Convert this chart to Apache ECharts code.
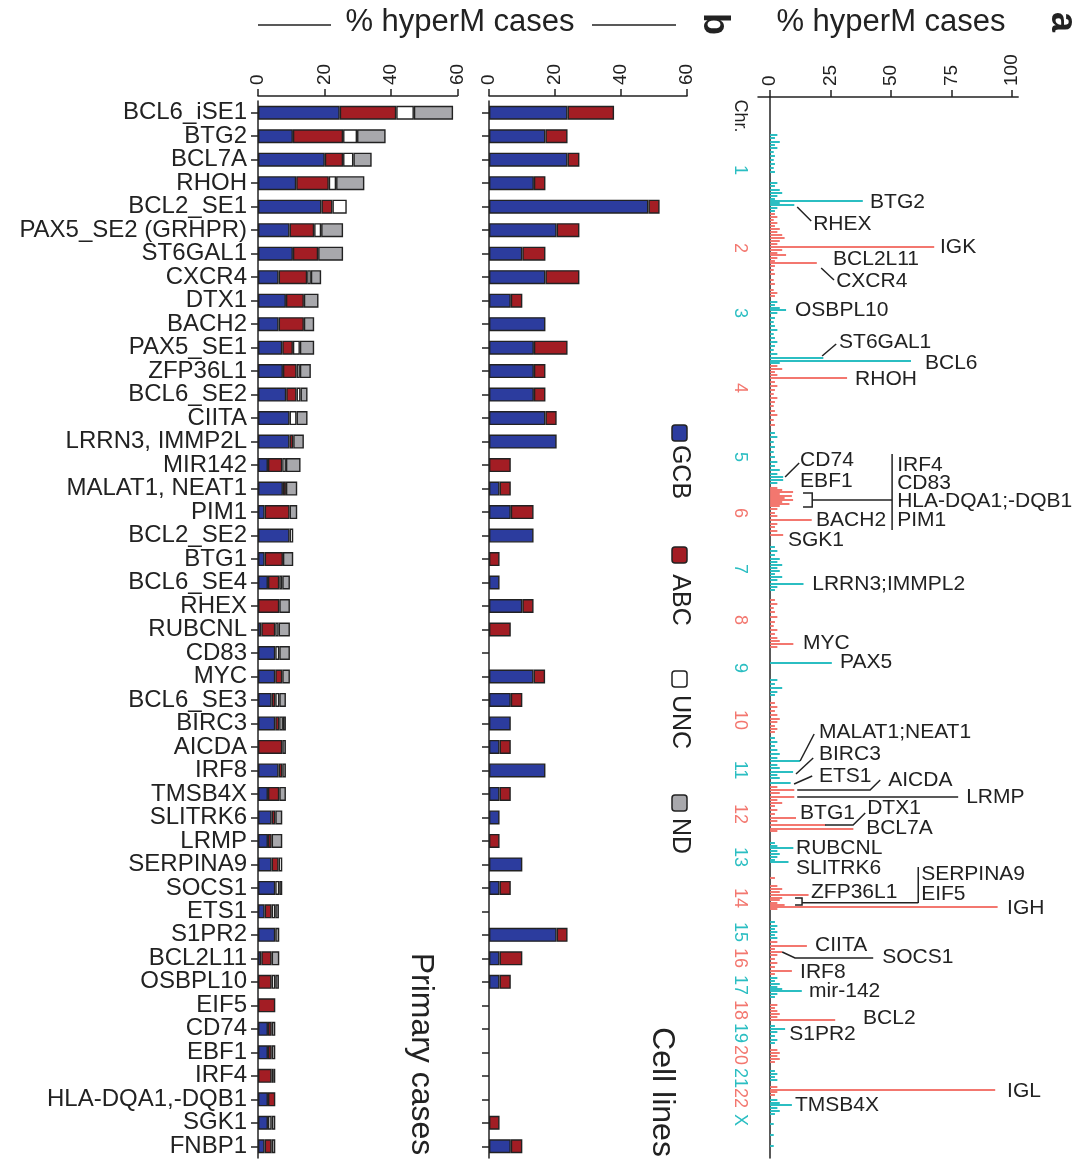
<!DOCTYPE html>
<html><head><meta charset="utf-8">
<script src="https://cdn.jsdelivr.net/npm/echarts@6/dist/echarts.min.js"></script>
<style>html,body{margin:0;padding:0;background:#fff}#c{width:1087px;height:1163px}</style>
</head><body><div id="c"></div>
<script>
// ---------- Panel b data ----------
const genes = ['BCL6_iSE1','BTG2','BCL7A','RHOH','BCL2_SE1','PAX5_SE2 (GRHPR)','ST6GAL1','CXCR4','DTX1','BACH2',
 'PAX5_SE1','ZFP36L1','BCL6_SE2','CIITA','LRRN3, IMMP2L','MIR142','MALAT1, NEAT1','PIM1','BCL2_SE2','BTG1',
 'BCL6_SE4','RHEX','RUBCNL','CD83','MYC','BCL6_SE3','BIRC3','AICDA','IRF8','TMSB4X',
 'SLITRK6','LRMP','SERPINA9','SOCS1','ETS1','S1PR2','BCL2L11','OSBPL10','EIF5','CD74',
 'EBF1','IRF4','HLA-DQA1,-DQB1','SGK1','FNBP1'];
const primGCB = [24.6,10.5,20.1,11.5,19.1,9.5,10.5,6.2,8.4,6.2, 7.3,7.5,8.5,9.5,9.5,3.0,7.5,2.0,9.5,2.0,
 3.0,0,1.0,5.2,5.2,4.1,5.2,0,6.2,3.0, 4.1,3.0,4.1,5.2,2.0,5.2,1.0,0,0,3.0, 3.0,0,3.0,3.0,2.0];
const primABC = [17.0,15.1,5.5,9.8,3.3,7.4,7.6,8.6,5.4,7.6, 3.2,4.1,3.1,0,1.1,4.3,0.9,7.5,0,5.5,
 3.4,6.4,4.2,0,2.1,1.1,1.2,7.3,1.1,3.4, 1.1,1.1,2.1,0,2.1,0,3.1,4.1,5.2,1.1, 1.1,4.1,2.2,0,2.1];
const primUNC = [5.3,4.2,3.1,2.2,4.3,2.1,0,1.1,0,0, 2.1,1.0,1.2,2.1,0,1.1,0,0,1.1,0,
 0.9,0,1.0,1.2,0,1.2,1.1,0,0,0, 0,0,1.1,1.2,1.1,0,0,1.1,0,0, 0,0.5,0,1.1,0];
const primND = [11.8,8.6,5.5,8.5,0,6.6,7.5,3.1,4.4,3.1, 4.3,3.3,2.1,3.3,3.2,4.4,3.4,2.3,0,3.1,
 2.3,3.2,3.4,3.2,2.3,2.0,0.9,1.1,1.1,2.0, 2.1,3.2,0,0.9,1.1,1.2,2.3,1.1,0,1.1, 1.1,0.6,0,1.1,1.1];
const cellGCB = [23.8,17.1,23.8,13.6,48.3,20.5,10.1,17.1,6.6,17.1, 13.6,13.6,13.6,17.1,20.5,0,3.2,6.6,13.5,0,
 3.2,10.1,0,0,13.5,6.6,6.6,3.2,17.1,3.2, 3.2,0,10.1,3.2,0,20.5,3.2,3.2,0,0, 0,0,0,0,6.6];
const cellABC = [14.1,6.7,3.6,3.5,3.4,6.9,7.0,10.3,3.5,0, 10.2,3.5,3.5,3.4,0,6.6,3.4,6.9,0,3.2,
 0,3.4,6.6,0,3.5,3.5,0,3.4,0,3.4, 0,3.2,0,3.4,0,3.3,6.9,3.4,0,0, 0,0,0,3.2,3.5];
const bTicks = [0,20,40,60];
const legendNames = ['GCB','ABC','UNC','ND'];

// ---------- Panel a data ----------
const aTicks = [0,25,50,75,100];
const chrNames = ['1','2','3','4','5','6','7','8','9','10','11','12','13','14','15','16','17','18','19','20','21','22','X'];
const chrLabelPos = [170,248,313,388,457,513,569,620,668,720,770,814,857,898,932,958,985,1010,1033,1055,1078,1098,1120];
// [chromosome index, genomic position (plot units), % hyperM cases]
const hmTicks = [
 [0,135,3],[0,138,2],[0,142,4],[0,145,2],[0,148,3],[0,152,1.5],[0,156,2],[0,160,1.5],[0,164,2],[0,168,1.5],[0,172,2],[0,183,3],[0,186,2],[0,190,4],[0,193,5],[0,196,3],[0,199,2],[0,201,38.3],[0,203,4],[0,205,10],[0,208,3],[0,211,2],
 [1,214,2],[1,217,3],[1,220,1.5],[1,223,3],[1,226,2],[1,229,4],[1,232,3],[1,235,5],[1,238,6],[1,241,4],[1,244,3],[1,247,67.8],[1,250,5],[1,253,3],[1,255,6.6],[1,258,3],[1,261,2],[1,263,19.3],[1,266,2],[1,270,1.5],[1,274,2],[1,280,1.5],[1,284,2],[1,290,1.5],[1,293,3],[1,296,2],
 [2,302,3],[2,305,2],[2,308,4],[2,310,6.6],[2,313,3],[2,318,2],[2,322,1.5],[2,326,2],[2,330,3],[2,334,1.5],[2,338,2],[2,342,3],[2,346,2],[2,350,1.5],[2,354,3],[2,358,22],[2,361,58.2],[2,363,4],
 [3,366,3],[3,369,5],[3,372,2],[3,375,3],[3,378,31.8],[3,382,2],[3,386,3],[3,390,2],[3,394,1.5],[3,398,3],[3,402,2],[3,406,1.5],[3,411,2],[3,415,3],[3,420,1.5],[3,425,2],
 [4,433,2],[4,437,3],[4,442,1.5],[4,447,2],[4,452,1.5],[4,457,2],[4,462,3],[4,466,2],[4,470,4],[4,474,3],[4,477,5.4],[4,480,5.4],[4,483,3],
 [5,488,3],[5,490,5],[5,492,9.5],[5,494,4],[5,496,9],[5,498,6],[5,500,9.5],[5,502,5],[5,504,8],[5,506,4],[5,509,3],[5,513,2],[5,516,3],[5,520,17.2],[5,524,3],[5,527,2],[5,531,3],[5,535,5.4],
 [6,547,2],[6,551,3],[6,555,2],[6,559,4],[6,562,3],[6,565,5],[6,568,3],[6,571,4],[6,574,2],[6,577,5],[6,580,3],[6,584,13.8],[6,587,3],[6,590,2],
 [7,600,2],[7,604,3],[7,608,1.5],[7,612,2],[7,617,3],[7,622,2],[7,626,1.5],[7,630,3],[7,634,2],[7,638,3],[7,641,4],[7,644,9.6],[7,647,3],
 [8,663,25.5],[8,680,3],[8,684,2],[8,688,5],[8,692,3],[8,695,2],
 [9,703,2],[9,707,3],[9,711,2],[9,715,3],[9,719,4],[9,722,3],[9,726,2],[9,729,3],[9,732,2],
 [10,738,2],[10,742,3],[10,746,2],[10,750,3],[10,754,4],[10,758,3],[10,761,12.4],[10,765,3],[10,768,4],[10,772,9.5],[10,775,3],[10,778,4],[10,783,8.5],
 [11,787,3],[11,790,10],[11,793,4],[11,797,10],[11,800,3],[11,803,5],[11,806,2],[11,810,3],[11,814,2],[11,818,10.7],[11,821,3],[11,825,23],[11,829,34.4],[11,831,3],
 [12,843,2],[12,846,3],[12,848,9.6],[12,851,3],[12,854,4],[12,857,3],[12,860,2],[12,862,7.6],
 [13,878,2],[13,886,3],[13,889,5],[13,892,4],[13,895,15.9],[13,898,5],[13,900,4],[13,903,3],[13,905,6],[13,907,94],[13,909,3],
 [14,922,2],[14,926,3],[14,929,2],[14,932,3],[14,935,2],[14,938,3],
 [15,942,3],[15,946,15.2],[15,949,2],[15,952,5],[15,955,3],[15,959,2],[15,963,3],[15,967,2],[15,971,9],[15,974,2],
 [16,978,3],[16,981,2],[16,984,4],[16,987,3],[16,989,5],[16,991,13.1],[16,994,3],[16,997,2],
 [17,1005,3],[17,1008,2],[17,1011,3],[17,1014,4],[17,1017,3],[17,1020,26.9],
 [18,1026,2],[18,1029,6.2],[18,1032,3],[18,1036,2],[18,1040,3],[18,1043,2],
 [19,1050,3],[19,1053,4],[19,1056,3],[19,1059,4],[19,1062,2],
 [20,1071,2],[20,1074,3],[20,1077,2],[20,1080,3],
 [21,1087,3],[21,1090,93],[21,1092,3],[21,1095,2],
 [22,1100,3],[22,1103,4],[22,1105,9],[22,1108,3],[22,1111,4],[22,1114,2],[22,1124,1.5],[22,1135,1.5],[22,1146,1.5]
];
const geneLabelNames = ['BTG2','RHEX','IGK','BCL2L11','CXCR4','OSBPL10','ST6GAL1','BCL6','RHOH','CD74','EBF1',
 'IRF4','CD83','HLA-DQA1;-DQB1','PIM1','BACH2','SGK1','LRRN3;IMMPL2','MYC','PAX5','MALAT1;NEAT1','BIRC3','ETS1',
 'AICDA','LRMP','BTG1','DTX1','BCL7A','RUBCNL','SLITRK6','SERPINA9','ZFP36L1','EIF5','IGH','CIITA','SOCS1',
 'IRF8','mir-142','BCL2','S1PR2','IGL','TMSB4X'];
const geneLabelPos = [[41.3,202],[17.8,224],[70.2,247],[26.0,259],[27.3,281],[10.3,310],[28.5,342],[64.0,363],[35.1,379],[12.4,460],[12.4,481],
 [52.5,465],[52.5,483],[52.5,501],[52.5,520],[19.0,520],[7.4,540],[17.4,584],[13.6,643],[28.9,662],[20.2,732],[20.2,754],[20.2,776],
 [48.8,780],[81.0,797],[12.4,813],[40.1,808],[39.7,828],[10.7,848],[10.7,868],[62.4,874],[16.9,892],[62.4,894],[97.9,908],[18.6,945],[46.3,957],
 [12.4,972],[16.1,991],[38.4,1018],[7.9,1034],[97.9,1091],[10.3,1105]];
const leaderPaths = [
 [[11.2,207],[17.0,221]], [[21.1,268],[26.4,280]], [[21.5,356],[27.3,344]], [[6.2,477],[12.0,463]],
 [[13.6,493],[17.4,493],[17.4,507],[13.6,507]], [[17.4,500],[50.4,500]], [[50.4,454],[50.4,530]],
 [[12.4,761],[18.2,734]], [[10.7,774],[17.8,758]], [[9.9,784],[17.4,776]],
 [[11.2,790],[41.3,790],[45.5,780]], [[11.2,797],[77.7,797]], [[22.7,825],[34.3,825],[39.3,813]],
 [[10.3,898],[13.2,898],[13.2,905],[10.3,905]], [[13.2,902.7],[61.2,902.7]], [[61.2,867],[61.2,903]],
 [[5.0,952],[10.3,958],[42.6,958]]
];

// ---------- styles ----------
const FONT = 'Liberation Sans, Arial, Helvetica, sans-serif';
const BLUE = '#2C3C9E', RED = '#A31D24', UNCW = '#FFFFFF', GRAY = '#A8A8AC';
const CYAN = '#2BBEC2', SALMON = '#F3776F', INK = '#222';
const nz = a => a.map(v => v > 0 ? v : null);

const chart = echarts.init(document.getElementById('c'), null, {renderer: 'canvas'});

function barSeries(name, data, color, xi, stack) {
  return {type: 'bar', name, data: nz(data), stack, xAxisIndex: xi, yAxisIndex: xi, barWidth: 14,
    itemStyle: {color, borderColor: INK, borderWidth: 1.4}, silent: true};
}
const axisLineStyle = {show: true, lineStyle: {color: INK, width: 1.5}};
function bXAxis(idx) {
  return {gridIndex: idx, type: 'value', position: 'top', min: 0, max: 60, interval: 20, offset: 5,
    axisLine: axisLineStyle, axisTick: {show: true, length: 7, lineStyle: {color: INK, width: 1.5}},
    splitLine: {show: false},
    axisLabel: {rotate: -90, fontSize: 19, fontFamily: FONT, color: INK, margin: 11}};
}
function bYAxis(idx, showLabels) {
  return {gridIndex: idx, type: 'category', data: genes, inverse: true,
    axisLine: axisLineStyle, axisTick: {show: true, length: 7, alignWithLabel: true, interval: 0, lineStyle: {color: INK, width: 1.5}},
    axisLabel: {show: showLabels, interval: 0, fontSize: 24, fontFamily: FONT, color: INK, margin: 11}};
}

// graphic texts
const rotTxt = (text, x, y, size, bold) => ({type: 'text', x, y, rotation: -Math.PI / 2,
  style: {text, font: (bold ? 'bold ' : '') + size + 'px ' + FONT, fill: INK, align: 'center', verticalAlign: 'middle',
    textAlign: 'center', textVerticalAlign: 'middle'}});
const legendColors = [BLUE, RED, UNCW, GRAY];
const legendIconY = [433, 555, 679, 803];
const legendTextY = [472, 600, 722, 836];
const graphics = [];
legendNames.forEach((n, i) => {
  graphics.push({type: 'rect', shape: {x: 672, y: legendIconY[i] - 8, width: 15, height: 16, r: 3},
    style: {fill: legendColors[i], stroke: INK, lineWidth: 1.5}});
  graphics.push(rotTxt(n, 680, legendTextY[i], 25));
});
graphics.push(rotTxt('Primary cases', 421, 1054, 32));
graphics.push(rotTxt('Cell lines', 662, 1092, 32));
graphics.push(rotTxt('b', 714, 24, 36, true));
graphics.push(rotTxt('a', 1062, 22, 36, true));
graphics.push(rotTxt('Chr.', 740, 116, 18));
const hTxt = (text, x, y, size) => ({type: 'text', x, y, style: {text, font: size + 'px ' + FONT, fill: INK,
  align: 'center', verticalAlign: 'middle', textAlign: 'center', textVerticalAlign: 'middle'}});
graphics.push(hTxt('% hyperM cases', 460, 22, 31));
graphics.push(hTxt('% hyperM cases', 891, 22, 31));
graphics.push({type: 'line', shape: {x1: 258, y1: 25, x2: 331, y2: 25}, style: {stroke: INK, lineWidth: 1.5}});
graphics.push({type: 'line', shape: {x1: 592, y1: 25, x2: 676, y2: 25}, style: {stroke: INK, lineWidth: 1.5}});

const option = {
  animation: false,
  backgroundColor: '#fff',
  textStyle: {fontFamily: FONT},
  grid: [
    {left: 258, width: 199.4, top: 101, height: 1057, outerBoundsMode: 'none', containLabel: false},
    {left: 489, width: 198, top: 101, height: 1057, outerBoundsMode: 'none', containLabel: false},
    {left: 758, width: 260.2, top: 97, height: 1061, outerBoundsMode: 'none', containLabel: false}
  ],
  xAxis: [
    bXAxis(0), bXAxis(1),
    {gridIndex: 2, type: 'value', position: 'top', min: -5, max: 102.5,
      axisLine: axisLineStyle,
      axisTick: {show: true, length: 7, customValues: aTicks, lineStyle: {color: INK, width: 1.5}},
      axisLabel: {rotate: -90, fontSize: 19, fontFamily: FONT, color: INK, margin: 11, customValues: aTicks},
      splitLine: {show: false}}
  ],
  yAxis: [
    bYAxis(0, true), bYAxis(1, false),
    {gridIndex: 2, type: 'value', min: 97, max: 1158, inverse: true,
      axisLine: axisLineStyle, axisTick: {show: false}, axisLabel: {show: false}, splitLine: {show: false}}
  ],
  graphic: graphics,
  series: [
    barSeries('GCB', primGCB, BLUE, 0, 'p'),
    barSeries('ABC', primABC, RED, 0, 'p'),
    barSeries('UNC', primUNC, UNCW, 0, 'p'),
    barSeries('ND', primND, GRAY, 0, 'p'),
    barSeries('GCB', cellGCB, BLUE, 1, 'c'),
    barSeries('ABC', cellABC, RED, 1, 'c'),
    {type: 'custom', xAxisIndex: 2, yAxisIndex: 2, silent: true, clip: false,
      data: hmTicks, encode: {x: 2, y: 1},
      renderItem: (params, api) => {
        const p0 = api.coord([0, api.value(1)]);
        const p1 = api.coord([api.value(2), api.value(1)]);
        return {type: 'line', shape: {x1: p0[0], y1: p0[1], x2: p1[0], y2: p1[1]},
          style: {stroke: api.value(0) % 2 === 0 ? CYAN : SALMON, lineWidth: 2}};
      }},
    {type: 'custom', xAxisIndex: 2, yAxisIndex: 2, silent: true, clip: false,
      data: leaderPaths.map(p => p[0]), encode: {x: 0, y: 1},
      renderItem: (params, api) => {
        const pts = leaderPaths[params.dataIndex].map(q => api.coord(q));
        return {type: 'polyline', shape: {points: pts}, style: {stroke: INK, lineWidth: 1.5, fill: null}};
      }},
    {type: 'custom', xAxisIndex: 2, yAxisIndex: 2, silent: true, clip: false,
      data: geneLabelPos, encode: {x: 0, y: 1},
      renderItem: (params, api) => {
        const p = api.coord([api.value(0), api.value(1)]);
        return {type: 'text', x: p[0], y: p[1],
          style: {text: geneLabelNames[params.dataIndex], font: '21px ' + FONT, fill: INK,
            align: 'left', verticalAlign: 'middle', textAlign: 'left', textVerticalAlign: 'middle'}};
      }},
    {type: 'custom', xAxisIndex: 2, yAxisIndex: 2, silent: true, clip: false,
      data: chrLabelPos.map(y => [-12.4, y]), encode: {x: 0, y: 1},
      renderItem: (params, api) => {
        const p = api.coord([api.value(0), api.value(1)]);
        return {type: 'text', x: p[0], y: p[1], rotation: -Math.PI / 2,
          style: {text: chrNames[params.dataIndex], font: '18px ' + FONT,
            fill: params.dataIndex % 2 === 0 ? CYAN : SALMON,
            align: 'center', verticalAlign: 'middle', textAlign: 'center', textVerticalAlign: 'middle'}};
      }}
  ]
};
chart.setOption(option);
</script>
</body></html>
